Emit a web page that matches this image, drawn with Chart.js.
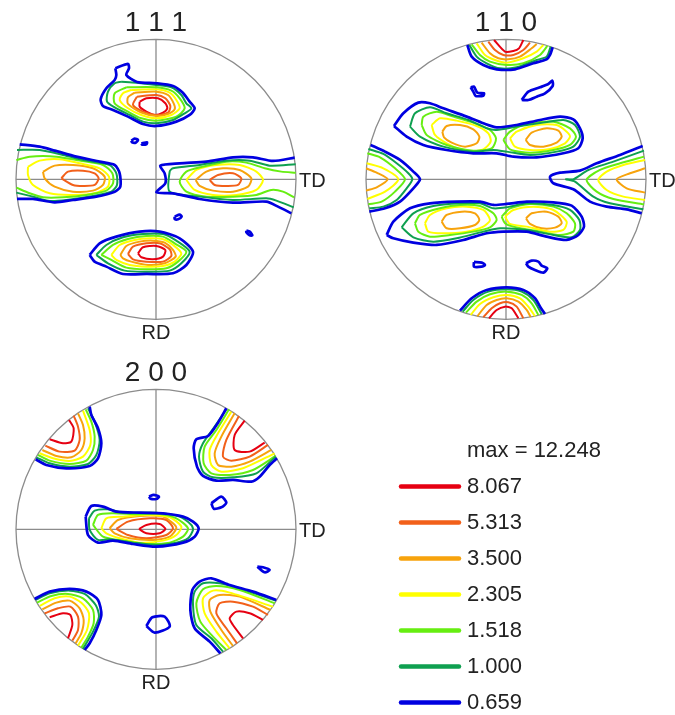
<!DOCTYPE html>
<html>
<head>
<meta charset="utf-8">
<title>Pole figures</title>
<script src="https://cdn.jsdelivr.net/npm/chart.js@4/dist/chart.umd.min.js"></script>
<style>
  html, body { margin: 0; padding: 0; background: #fff; overflow: hidden; }
  body { position: relative; width: 675px; height: 715px; }
  canvas { position: absolute; filter: blur(0.4px); }
  #fig111 { left: -24px; top: 0; }
  #fig110 { left: 326px; top: 0; }
  #fig200 { left: -24px; top: 350px; }
  #legendChart { left: 380px; top: 430px; }
</style>
</head>
<body>
<canvas id="fig111" width="360" height="350"></canvas>
<canvas id="fig110" width="360" height="350"></canvas>
<canvas id="fig200" width="360" height="350"></canvas>
<canvas id="legendChart" width="295" height="285"></canvas>
<script>
// closes a contour that does not run out to the rim
const loop = pts => [...pts, pts[0]];

// contour levels, lowest first
const levelLabels = ['0.659', '1.000', '1.518', '2.305', '3.500', '5.313', '8.067', 'max = 12.248'];
const levelColors = ['#0000e0', '#0fa050', '#66ee11', '#ffff00', '#f7a30c', '#f2601a', '#e60012'];

// 111 figure, digitised contours
const p111Blue = [
    loop([[347,205],[385,192],[388,205],[380,225],[412,246],[470,250],[520,258],[548,277],[570,305],[585,325],[570,345],[530,365],[470,378],[430,372],[385,350],[340,330],[310,318],[303,298],[320,265],[345,240],[350,225]]),
    [[60,433],[120,440],[165,452],[230,470],[300,485],[345,495],[360,520],[362,560],[345,575],[290,590],[220,600],[165,607],[100,597],[52,597]],
    [[885,473],[820,483],[760,472],[700,472],[620,485],[540,490],[482,497],[495,520],[497,550],[470,577],[520,580],[600,597],[700,608],[800,605],[835,620],[875,640]],
    loop([[270,765],[300,730],[350,710],[420,695],[480,695],[540,715],[580,755],[560,795],[520,820],[440,822],[370,822],[320,800],[285,785]]),
    loop([[395,422],[405,416],[415,420],[408,428],[397,427]]),
    loop([[425,431],[442,427],[440,433],[427,434]]),
    loop([[525,650],[540,644],[546,650],[535,658],[525,657]]),
    loop([[740,692],[750,695],[758,706],[750,706],[740,697]])
];
const p111Green = [
    loop([[365,245],[410,248],[470,255],[515,262],[545,285],[560,310],[575,325],[555,340],[520,360],[470,370],[430,365],[390,345],[345,322],[322,305],[325,275],[345,250]]),
    [[52,450],[120,450],[190,465],[260,482],[330,495],[350,520],[352,555],[335,575],[280,588],[200,600],[150,603],[100,590],[50,578]],
    [[888,493],[810,497],[750,482],[680,482],[600,495],[520,505],[510,515],[510,575],[600,590],[700,600],[800,595],[830,602],[882,622]],
    loop([[290,765],[320,735],[370,712],[430,702],[490,702],[530,722],[570,755],[545,790],[510,812],[440,815],[375,812],[325,790]])
];
const p111Lime = [
    loop([[380,262],[470,262],[515,272],[540,295],[555,325],[530,350],[470,362],[425,355],[385,335],[345,310],[345,280]]),
    [[50,480],[90,470],[170,470],[240,482],[310,495],[338,520],[340,550],[320,572],[260,585],[190,592],[130,592],[90,580],[50,563]],
    [[888,518],[845,515],[795,505],[740,488],[680,485],[610,500],[560,515],[540,545],[560,575],[620,590],[700,590],[770,585],[815,570],[850,575],[883,592]],
    loop([[305,765],[340,735],[385,717],[440,708],[490,710],[525,730],[560,755],[535,785],[500,805],[440,808],[380,803],[335,780]])
];
const p111Yellow = [
    loop([[395,270],[470,268],[510,278],[530,300],[540,325],[515,345],[470,355],[425,345],[385,325],[360,300],[370,280]]),
    loop([[85,500],[120,482],[180,478],[240,490],[300,505],[328,530],[325,560],[290,578],[220,585],[150,580],[100,555],[85,525]]),
    loop([[560,540],[590,510],[650,495],[720,495],[770,515],[790,540],[770,570],[710,585],[640,585],[585,570]]),
    loop([[335,765],[360,735],[405,720],[450,715],[490,718],[520,735],[545,760],[525,785],[490,798],[440,800],[390,795],[350,780]])
];
const p111Orange = [
    loop([[405,278],[470,275],[505,285],[522,310],[525,328],[505,342],[470,348],[425,338],[385,312],[385,292]]),
    loop([[130,515],[165,497],[220,495],[280,505],[315,530],[310,555],[280,572],[220,575],[165,560],[135,535]]),
    loop([[588,540],[620,515],[670,505],[720,510],[755,535],[745,560],[700,575],[640,572],[600,558]]),
    loop([[362,765],[380,738],[420,725],[460,722],[495,728],[520,750],[528,770],[495,790],[445,795],[395,785],[370,775]])
];
const p111Dark = [
    loop([[412,290],[470,285],[497,295],[512,318],[505,338],[470,345],[430,335],[400,315]]),
    loop([[185,535],[205,515],[250,512],[285,520],[297,535],[285,555],[250,558],[220,555]]),
    loop([[630,540],[655,525],[700,520],[725,535],[715,555],[680,558],[645,555]]),
    loop([[385,762],[400,740],[440,730],[480,730],[510,748],[515,768],[490,785],[440,785],[400,778]])
];
const p111Red = [
    loop([[420,305],[440,295],[475,295],[497,310],[503,325],[490,338],[465,345],[440,335],[420,320]]),
    loop([[415,760],[430,742],[470,738],[497,750],[490,770],[460,778],[425,772]])
];

// 110 figure
const p110Blue = [
    [[382,135],[395,170],[430,195],[470,208],[525,208],[580,190],[620,178],[630,165],[638,142]],
    loop([[162,378],[190,340],[235,308],[270,310],[310,325],[380,350],[430,370],[470,382],[530,375],[600,360],[660,350],[700,358],[720,385],[728,415],[715,445],[670,460],[590,472],[520,470],[470,460],[400,460],[320,450],[250,435],[200,410]]),
    loop([[140,705],[160,665],[210,625],[270,610],[350,605],[420,605],[460,615],[500,612],[560,605],[640,607],[695,617],[725,650],[732,680],[715,705],[680,720],[620,710],[560,695],[490,695],[440,700],[370,720],[290,735],[220,728],[160,715]]),
    [[92,435],[135,455],[180,480],[220,515],[240,538],[220,565],[180,605],[135,625],[88,635]],
    [[908,438],[840,465],[770,490],[720,512],[660,518],[630,530],[640,550],[700,568],[750,605],[800,620],[860,628],[905,640]],
    [[360,932],[395,895],[440,870],[500,862],[550,870],[585,895],[603,925],[615,942]],
    loop([[392,262],[402,260],[412,278],[432,280],[430,287],[407,288],[400,275]]),
    loop([[545,300],[565,275],[600,262],[625,252],[637,242],[638,258],[615,280],[590,290],[565,300]]),
    loop([[402,786],[425,788],[435,795],[425,800],[402,800]]),
    loop([[558,790],[575,782],[595,785],[605,797],[622,805],[610,818],[585,810],[565,800]])
];
const p110Green = [
    [[388,135],[410,170],[440,190],[480,205],[530,202],[590,180],[620,170],[632,140]],
    loop([[210,380],[225,340],[270,322],[320,340],[385,360],[440,385],[470,390],[530,380],[610,368],[670,360],[705,375],[720,410],[700,440],[650,455],[570,465],[500,455],[460,450],[400,455],[310,440],[240,410]]),
    loop([[185,682],[220,640],[280,618],[360,610],[420,610],[460,625],[500,622],[560,610],[640,615],[690,630],[718,660],[720,690],[695,712],[640,705],[560,690],[480,685],[430,695],[350,715],[280,725],[220,712]]),
    [[85,447],[130,462],[170,490],[205,520],[217,538],[200,565],[170,600],[130,620],[88,625]],
    [[912,452],[820,485],[745,510],[700,538],[678,538],[705,545],[760,590],[810,610],[910,628]],
    [[368,935],[400,900],[445,875],[500,868],[545,875],[580,900],[605,942]]
];
const p110Lime = [
    [[395,133],[420,165],[450,185],[500,195],[550,190],[600,165],[622,138]],
    loop([[245,375],[250,350],[290,335],[340,350],[400,368],[450,390],[468,415],[455,445],[400,452],[320,435],[260,405]]),
    loop([[490,420],[510,395],[560,372],[640,365],[690,385],[708,410],[690,435],[640,450],[570,458],[510,448]]),
    loop([[225,670],[240,645],[300,625],[360,615],[420,618],[460,640],[470,660],[450,682],[400,695],[330,705],[270,710],[235,695]]),
    loop([[485,650],[510,625],[570,612],[640,620],[680,640],[705,670],[700,695],[660,705],[600,695],[520,680],[495,670]]),
    [[82,460],[120,472],[165,505],[195,538],[165,575],[125,605],[85,613]],
    [[912,470],[840,490],[780,510],[740,540],[770,575],[820,597],[912,613]],
    [[378,938],[410,905],[450,883],[500,875],[545,885],[575,910],[595,945]]
];
const p110Yellow = [
    [[410,130],[435,165],[465,180],[500,188],[550,175],[590,155],[610,135]],
    loop([[275,375],[300,355],[350,362],[410,378],[445,400],[452,425],[430,448],[380,455],[320,430],[285,405]]),
    loop([[510,415],[530,395],[590,375],[650,375],[680,395],[690,410],[675,430],[630,447],[570,450],[525,440]]),
    loop([[255,670],[270,645],[320,625],[380,620],[430,630],[450,660],[430,680],[380,695],[310,700],[265,695]]),
    loop([[495,650],[520,630],[580,620],[640,630],[680,665],[670,690],[630,695],[560,680],[510,672]]),
    [[80,490],[130,505],[175,538],[135,575],[82,597]],
    [[915,480],[850,495],[800,515],[775,540],[800,570],[850,590],[915,600]],
    [[392,945],[420,912],[460,892],[500,885],[540,895],[565,920],[585,949]]
];
const p110Orange = [
    [[425,128],[450,160],[475,175],[505,178],[540,170],[575,145],[590,132]],
    loop([[307,395],[320,378],[360,375],[400,388],[418,410],[410,430],[375,440],[335,428],[312,412]]),
    loop([[557,420],[575,398],[620,385],[655,392],[665,410],[650,428],[610,440],[570,435]]),
    loop([[305,665],[320,645],[365,635],[405,640],[418,660],[405,675],[360,685],[320,685]]),
    loop([[558,655],[575,640],[620,635],[655,650],[665,670],[645,683],[605,685],[570,672]]),
    [[78,505],[110,518],[143,538],[110,562],[78,572]],
    [[915,505],[870,520],[830,538],[860,565],[915,578]],
    [[412,949],[440,915],[470,900],[500,895],[535,905],[560,930],[572,951]]
];
const p110Dark = [
    [[445,125],[465,150],[490,165],[520,165],[550,150],[570,128]],
    [[430,952],[455,925],[480,910],[505,907],[530,920],[550,955]]
];
const p110Red = [
    [[462,120],[495,155],[520,153],[537,145],[550,120]],
    [[447,955],[470,930],[495,920],[515,925],[535,955]]
];

// 200 figure
const p200Blue = [
    [[108,328],[140,345],[200,355],[270,348],[295,325],[305,280],[295,235],[275,195],[270,170]],
    [[680,175],[655,218],[625,258],[590,268],[582,295],[592,350],[610,378],[650,392],[700,390],[755,395],[780,380],[810,345],[832,325]],
    [[105,747],[150,725],[210,717],[260,725],[295,750],[305,795],[290,840],[270,880],[255,900]],
    [[662,910],[630,875],[585,835],[572,780],[578,720],[600,695],[635,685],[690,705],[760,725],[830,750]],
    loop([[258,500],[275,468],[310,470],[350,485],[420,488],[490,490],[550,500],[580,515],[597,535],[585,560],[550,578],[470,590],[400,582],[340,572],[295,578],[265,555]]),
    loop([[448,440],[462,435],[478,440],[470,447],[452,446]]),
    loop([[635,460],[665,440],[680,458],[665,472],[642,476]]),
    loop([[773,650],[790,652],[810,660],[795,667]]),
    loop([[440,828],[458,802],[495,800],[510,830],[465,848]])
];
const p200Green = [
    [[110,322],[150,340],[210,350],[265,342],[290,315],[300,270],[285,215],[265,175]],
    [[680,178],[645,230],[610,280],[598,320],[610,365],[640,382],[700,382],[770,370],[828,320]],
    [[108,750],[150,730],[210,722],[255,732],[288,765],[298,800],[280,845],[250,897]],
    [[670,905],[635,865],[590,825],[580,765],[585,725],[610,700],[660,700],[720,715],[828,752]],
    loop([[268,505],[285,482],[325,478],[370,488],[470,488],[540,500],[575,525],[580,540],[565,565],[530,578],[470,585],[400,578],[330,568],[295,570],[270,540]])
];
const p200Lime = [
    [[115,315],[150,332],[210,342],[260,332],[280,300],[285,260],[275,215],[258,178]],
    [[688,178],[650,240],[615,290],[612,340],[635,370],[690,375],[760,360],[828,318]],
    [[112,758],[155,738],[205,732],[250,745],[280,780],[282,820],[265,860],[245,893]],
    [[680,900],[640,860],[602,815],[590,760],[610,718],[650,708],[720,720],[825,760]],
    loop([[280,525],[295,495],[340,490],[410,493],[480,492],[530,505],[565,535],[550,560],[510,578],[440,582],[370,572],[310,560]])
];
const p200Yellow = [
    [[120,310],[160,325],[210,333],[250,320],[272,285],[270,240],[250,182]],
    [[695,185],[655,250],[630,300],[635,345],[665,365],[730,355],[825,310]],
    [[120,768],[165,745],[210,740],[245,758],[268,790],[262,840],[235,887]],
    [[690,895],[650,845],[615,790],[610,745],[640,722],[690,728],[820,770]],
    loop([[305,535],[320,505],[370,500],[440,495],[510,502],[545,530],[530,555],[490,572],[420,578],[360,565],[320,550]])
];
const p200Orange = [
    [[128,300],[170,318],[215,322],[245,300],[255,265],[250,225],[235,190]],
    [[705,190],[665,260],[645,310],[655,345],[695,350],[750,335],[815,300]],
    [[128,778],[170,758],[210,752],[240,775],[252,810],[245,850],[228,880]],
    [[700,888],[665,840],[632,785],[630,750],[660,735],[720,740],[812,780]],
    loop([[330,535],[355,510],[420,498],[490,500],[520,520],[530,535],[510,560],[460,570],[390,565],[345,550]])
];
const p200Dark = [
    [[137,287],[180,305],[225,302],[240,270],[235,230],[222,197]],
    [[718,198],[680,270],[670,320],[695,332],[750,320],[805,285]],
    [[135,790],[175,775],[212,770],[235,800],[235,840],[218,872]],
    [[712,880],[680,835],[650,790],[660,760],[700,755],[760,770],[805,795]],
    loop([[350,537],[385,515],[450,505],[500,510],[520,535],[500,555],[440,565],[385,555]])
];
const p200Red = [
    [[150,268],[190,280],[215,275],[222,235],[208,210]],
    [[735,212],[705,255],[705,300],[750,305],[795,278]],
    [[150,802],[190,790],[212,795],[218,825],[205,865]],
    [[730,865],[700,825],[690,805],[710,785],[750,790],[790,810]],
    loop([[418,537],[440,525],[480,522],[497,537],[480,550],[440,550]])
];

Chart.defaults.font.family = '"Liberation Sans", Arial, sans-serif';
Chart.defaults.color = '#222';
Chart.defaults.animation = false;

// unit circle, cross hair and the TD / RD labels, placed from the scales
const frame = {
    id: 'frame',
    beforeDatasetsDraw(chart) {
        const { ctx, scales: { x, y } } = chart;
        const cx = x.getPixelForValue((x.min + x.max) / 2);
        const cy = y.getPixelForValue((y.min + y.max) / 2);
        const r = (chart.chartArea.right - chart.chartArea.left) / 2;
        ctx.save();
        ctx.strokeStyle = '#8c8c8c';
        ctx.lineWidth = 1.3;
        ctx.beginPath();
        ctx.arc(cx, cy, r, 0, Math.PI * 2);
        ctx.moveTo(cx - r, cy);
        ctx.lineTo(cx + r, cy);
        ctx.moveTo(cx, cy - r);
        ctx.lineTo(cx, cy + r);
        ctx.stroke();
        ctx.fillStyle = '#222';
        ctx.font = '20px "Liberation Sans", Arial, sans-serif';
        ctx.textAlign = 'left';
        ctx.fillText('TD', cx + r + 3, cy + 7.5);
        ctx.textAlign = 'center';
        ctx.fillText('RD', cx, cy + r + 20);
        ctx.restore();
    }
};

// level names beside the legend keys
const levelText = {
    id: 'levelText',
    afterDatasetsDraw(chart) {
        const { ctx, scales: { x, y } } = chart;
        ctx.save();
        ctx.fillStyle = '#222';
        ctx.font = '22px "Liberation Sans", Arial, sans-serif';
        ctx.textBaseline = 'middle';
        levelLabels.forEach((label, i) => {
            ctx.fillText(label, x.getPixelForValue(1) + 8, y.getPixelForValue(i));
        });
        ctx.restore();
    }
};

function contourDatasets(levels) {
    return levels.map((lobes, i) => ({
        data: lobes.flatMap(pts => [...pts.map(p => ({ x: p[0], y: p[1] })), { x: NaN, y: NaN }]),
        showLine: true,
        borderColor: levelColors[i],
        borderWidth: i === 0 ? 2.7 : 2,
        tension: 0.25,
        pointRadius: 0
    }));
}

function drawFigure(id, name, xMin, levels) {
    new Chart(document.getElementById(id), {
        type: 'scatter',
        data: { datasets: contourDatasets(levels) },
        plugins: [frame],
        options: {
            responsive: false,
            layout: { autoPadding: false, padding: { left: 40, right: 40, top: 0, bottom: 30.7 } },
            scales: {
                x: { display: false, min: xMin, max: xMin + 840 },
                y: { display: false, reverse: true, min: 118, max: 958 }
            },
            plugins: {
                legend: { display: false },
                tooltip: { enabled: false },
                title: {
                    display: true,
                    text: name,
                    color: '#222',
                    font: { size: 28, weight: 'normal', lineHeight: 1 },
                    padding: { top: 9, bottom: 2.3 }
                }
            }
        }
    });
}

drawFigure('fig111', '1 1 1', 49, [p111Blue, p111Green, p111Lime, p111Yellow, p111Orange, p111Dark, p111Red]);
drawFigure('fig110', '1 1 0', 78, [p110Blue, p110Green, p110Lime, p110Yellow, p110Orange, p110Dark, p110Red]);
drawFigure('fig200', '2 0 0', 49, [p200Blue, p200Green, p200Lime, p200Yellow, p200Orange, p200Dark, p200Red]);

// legend keys, one short line per level
new Chart(document.getElementById('legendChart'), {
    type: 'scatter',
    data: {
        datasets: levelColors.map((color, i) => ({
            data: [{ x: 0, y: i }, { x: 1, y: i }],
            showLine: true,
            clip: false,
            borderColor: color,
            borderWidth: 4.5,
            borderCapStyle: 'round',
            pointRadius: 0
        }))
    },
    plugins: [levelText],
    options: {
        responsive: false,
        layout: { autoPadding: false, padding: { left: 21, right: 216, top: 20.5, bottom: 12.5 } },
        scales: {
            x: { display: false, min: 0, max: 1 },
            y: { display: false, min: 0, max: 7 }
        },
        plugins: { legend: { display: false }, tooltip: { enabled: false } }
    }
});
</script>
</body>
</html>
